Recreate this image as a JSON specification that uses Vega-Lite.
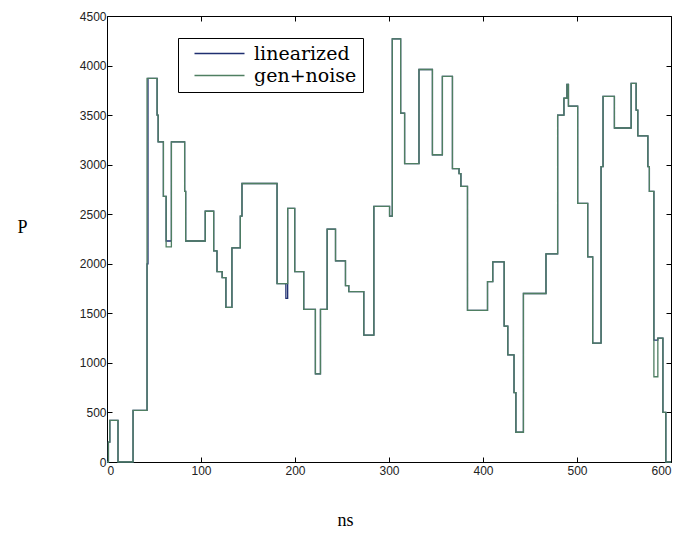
{
  "$schema": "https://vega.github.io/schema/vega-lite/v6.json",
  "autosize": "none",
  "width": 564,
  "height": 446,
  "padding": {"left": 107, "top": 16, "right": 14, "bottom": 74},
  "background": "white",
  "config": {
    "view": {"stroke": "black", "strokeWidth": 1},
    "axis": {
      "domain": false,
      "grid": false,
      "tickColor": "black",
      "tickSize": -5,
      "labelFont": "Liberation Sans",
      "labelFontSize": 12,
      "labelColor": "#222222",
      "format": "d",
      "titleFont": "Liberation Serif",
      "titleFontWeight": "normal",
      "titleFontSize": 17,
      "titleColor": "black"
    }
  },
  "data": {
    "values": [
      {"ns": 0, "P": 0, "series": "linearized"},
      {"ns": 1.5, "P": 200, "series": "linearized"},
      {"ns": 3, "P": 420, "series": "linearized"},
      {"ns": 11.7, "P": 0, "series": "linearized"},
      {"ns": 27.7, "P": 520, "series": "linearized"},
      {"ns": 42.6, "P": 2000, "series": "linearized"},
      {"ns": 43.6, "P": 3870, "series": "linearized"},
      {"ns": 53.3, "P": 3500, "series": "linearized"},
      {"ns": 54.4, "P": 3230, "series": "linearized"},
      {"ns": 60, "P": 2680, "series": "linearized"},
      {"ns": 62.9, "P": 2230, "series": "linearized"},
      {"ns": 68.5, "P": 3230, "series": "linearized"},
      {"ns": 82.6, "P": 2730, "series": "linearized"},
      {"ns": 83.7, "P": 2230, "series": "linearized"},
      {"ns": 104.5, "P": 2530, "series": "linearized"},
      {"ns": 113.5, "P": 2130, "series": "linearized"},
      {"ns": 117, "P": 1920, "series": "linearized"},
      {"ns": 122.5, "P": 1860, "series": "linearized"},
      {"ns": 126.5, "P": 1560, "series": "linearized"},
      {"ns": 132.9, "P": 2160, "series": "linearized"},
      {"ns": 141.8, "P": 2480, "series": "linearized"},
      {"ns": 143.6, "P": 2810, "series": "linearized"},
      {"ns": 180.9, "P": 1800, "series": "linearized"},
      {"ns": 190.3, "P": 1650, "series": "linearized"},
      {"ns": 192.2, "P": 2560, "series": "linearized"},
      {"ns": 199.7, "P": 1920, "series": "linearized"},
      {"ns": 209.3, "P": 1540, "series": "linearized"},
      {"ns": 221.7, "P": 890, "series": "linearized"},
      {"ns": 227.1, "P": 1540, "series": "linearized"},
      {"ns": 234.2, "P": 2350, "series": "linearized"},
      {"ns": 243.1, "P": 2030, "series": "linearized"},
      {"ns": 253.7, "P": 1780, "series": "linearized"},
      {"ns": 257.2, "P": 1720, "series": "linearized"},
      {"ns": 273.2, "P": 1280, "series": "linearized"},
      {"ns": 283.9, "P": 2580, "series": "linearized"},
      {"ns": 300.6, "P": 2480, "series": "linearized"},
      {"ns": 303.5, "P": 4270, "series": "linearized"},
      {"ns": 312.4, "P": 3520, "series": "linearized"},
      {"ns": 316.6, "P": 3010, "series": "linearized"},
      {"ns": 331.9, "P": 3960, "series": "linearized"},
      {"ns": 346.2, "P": 3100, "series": "linearized"},
      {"ns": 356.8, "P": 3890, "series": "linearized"},
      {"ns": 367.5, "P": 2960, "series": "linearized"},
      {"ns": 374.5, "P": 2910, "series": "linearized"},
      {"ns": 376.5, "P": 2780, "series": "linearized"},
      {"ns": 383.5, "P": 1530, "series": "linearized"},
      {"ns": 404.8, "P": 1820, "series": "linearized"},
      {"ns": 410.4, "P": 2020, "series": "linearized"},
      {"ns": 422.5, "P": 1370, "series": "linearized"},
      {"ns": 426.4, "P": 1080, "series": "linearized"},
      {"ns": 433, "P": 700, "series": "linearized"},
      {"ns": 435, "P": 300, "series": "linearized"},
      {"ns": 443, "P": 1700, "series": "linearized"},
      {"ns": 467, "P": 2100, "series": "linearized"},
      {"ns": 479.4, "P": 3500, "series": "linearized"},
      {"ns": 486.1, "P": 3670, "series": "linearized"},
      {"ns": 489.3, "P": 3810, "series": "linearized"},
      {"ns": 490.9, "P": 3590, "series": "linearized"},
      {"ns": 500.7, "P": 2610, "series": "linearized"},
      {"ns": 511.4, "P": 2070, "series": "linearized"},
      {"ns": 516.7, "P": 1200, "series": "linearized"},
      {"ns": 525.6, "P": 2980, "series": "linearized"},
      {"ns": 527.7, "P": 3690, "series": "linearized"},
      {"ns": 539.8, "P": 3370, "series": "linearized"},
      {"ns": 557.6, "P": 3820, "series": "linearized"},
      {"ns": 562.9, "P": 3550, "series": "linearized"},
      {"ns": 564.7, "P": 3290, "series": "linearized"},
      {"ns": 575.4, "P": 2980, "series": "linearized"},
      {"ns": 577, "P": 2730, "series": "linearized"},
      {"ns": 581.8, "P": 1230, "series": "linearized"},
      {"ns": 586, "P": 1250, "series": "linearized"},
      {"ns": 591.4, "P": 500, "series": "linearized"},
      {"ns": 594.5, "P": 0, "series": "linearized"},
      {"ns": 600, "P": 0, "series": "linearized"},

      {"ns": 0, "P": 0, "series": "gen+noise"},
      {"ns": 1.5, "P": 200, "series": "gen+noise"},
      {"ns": 3, "P": 420, "series": "gen+noise"},
      {"ns": 11.7, "P": 0, "series": "gen+noise"},
      {"ns": 27.7, "P": 520, "series": "gen+noise"},
      {"ns": 42.6, "P": 3870, "series": "gen+noise"},
      {"ns": 53.3, "P": 3500, "series": "gen+noise"},
      {"ns": 54.4, "P": 3230, "series": "gen+noise"},
      {"ns": 60, "P": 2680, "series": "gen+noise"},
      {"ns": 62.9, "P": 2170, "series": "gen+noise"},
      {"ns": 68.5, "P": 3230, "series": "gen+noise"},
      {"ns": 82.6, "P": 2730, "series": "gen+noise"},
      {"ns": 83.7, "P": 2230, "series": "gen+noise"},
      {"ns": 104.5, "P": 2530, "series": "gen+noise"},
      {"ns": 113.5, "P": 2130, "series": "gen+noise"},
      {"ns": 117, "P": 1920, "series": "gen+noise"},
      {"ns": 122.5, "P": 1860, "series": "gen+noise"},
      {"ns": 126.5, "P": 1560, "series": "gen+noise"},
      {"ns": 132.9, "P": 2160, "series": "gen+noise"},
      {"ns": 141.8, "P": 2480, "series": "gen+noise"},
      {"ns": 143.6, "P": 2810, "series": "gen+noise"},
      {"ns": 180.9, "P": 1800, "series": "gen+noise"},
      {"ns": 192.2, "P": 2560, "series": "gen+noise"},
      {"ns": 199.7, "P": 1920, "series": "gen+noise"},
      {"ns": 209.3, "P": 1540, "series": "gen+noise"},
      {"ns": 221.7, "P": 890, "series": "gen+noise"},
      {"ns": 227.1, "P": 1540, "series": "gen+noise"},
      {"ns": 234.2, "P": 2350, "series": "gen+noise"},
      {"ns": 243.1, "P": 2030, "series": "gen+noise"},
      {"ns": 253.7, "P": 1780, "series": "gen+noise"},
      {"ns": 257.2, "P": 1720, "series": "gen+noise"},
      {"ns": 273.2, "P": 1280, "series": "gen+noise"},
      {"ns": 283.9, "P": 2580, "series": "gen+noise"},
      {"ns": 300.6, "P": 2480, "series": "gen+noise"},
      {"ns": 303.5, "P": 4270, "series": "gen+noise"},
      {"ns": 312.4, "P": 3520, "series": "gen+noise"},
      {"ns": 316.6, "P": 3010, "series": "gen+noise"},
      {"ns": 331.9, "P": 3960, "series": "gen+noise"},
      {"ns": 346.2, "P": 3100, "series": "gen+noise"},
      {"ns": 356.8, "P": 3890, "series": "gen+noise"},
      {"ns": 367.5, "P": 2960, "series": "gen+noise"},
      {"ns": 374.5, "P": 2910, "series": "gen+noise"},
      {"ns": 376.5, "P": 2780, "series": "gen+noise"},
      {"ns": 383.5, "P": 1530, "series": "gen+noise"},
      {"ns": 404.8, "P": 1820, "series": "gen+noise"},
      {"ns": 410.4, "P": 2020, "series": "gen+noise"},
      {"ns": 422.5, "P": 1370, "series": "gen+noise"},
      {"ns": 426.4, "P": 1080, "series": "gen+noise"},
      {"ns": 433, "P": 700, "series": "gen+noise"},
      {"ns": 435, "P": 300, "series": "gen+noise"},
      {"ns": 443, "P": 1700, "series": "gen+noise"},
      {"ns": 467, "P": 2100, "series": "gen+noise"},
      {"ns": 479.4, "P": 3500, "series": "gen+noise"},
      {"ns": 486.1, "P": 3670, "series": "gen+noise"},
      {"ns": 489.3, "P": 3810, "series": "gen+noise"},
      {"ns": 490.9, "P": 3590, "series": "gen+noise"},
      {"ns": 500.7, "P": 2610, "series": "gen+noise"},
      {"ns": 511.4, "P": 2070, "series": "gen+noise"},
      {"ns": 516.7, "P": 1200, "series": "gen+noise"},
      {"ns": 525.6, "P": 2980, "series": "gen+noise"},
      {"ns": 527.7, "P": 3690, "series": "gen+noise"},
      {"ns": 539.8, "P": 3370, "series": "gen+noise"},
      {"ns": 557.6, "P": 3820, "series": "gen+noise"},
      {"ns": 562.9, "P": 3550, "series": "gen+noise"},
      {"ns": 564.7, "P": 3290, "series": "gen+noise"},
      {"ns": 575.4, "P": 2980, "series": "gen+noise"},
      {"ns": 577, "P": 2730, "series": "gen+noise"},
      {"ns": 581.8, "P": 860, "series": "gen+noise"},
      {"ns": 586, "P": 1250, "series": "gen+noise"},
      {"ns": 591.4, "P": 500, "series": "gen+noise"},
      {"ns": 594.5, "P": 0, "series": "gen+noise"},
      {"ns": 600, "P": 0, "series": "gen+noise"}
    ]
  },
  "layer": [
    {
      "mark": {"type": "line", "interpolate": "step-after", "strokeWidth": 1.3},
      "encoding": {
        "x": {
          "field": "ns", "type": "quantitative",
          "scale": {"domain": [0, 600], "nice": false},
          "axis": {"values": [0, 100, 200, 300, 400, 500, 600], "title": "ns", "titleFont": "Liberation Serif", "titleFontSize": 18, "titleX": 238, "titleY": 58, "titleBaseline": "middle", "labelPadding": 8}
        },
        "y": {
          "field": "P", "type": "quantitative",
          "scale": {"domain": [0, 4500], "nice": false},
          "axis": {"values": [0, 500, 1000, 1500, 2000, 2500, 3000, 3500, 4000, 4500], "title": "P", "titleFont": "Liberation Serif", "titleFontSize": 18, "titleAngle": 0, "titleX": -85, "titleY": 211, "titleBaseline": "middle", "titleAlign": "center", "labelPadding": 6}
        },
        "color": {
          "field": "series", "type": "nominal",
          "scale": {"domain": ["linearized", "gen+noise"], "range": ["#1f2f70", "#4f7f62"]},
          "legend": {
            "title": null,
            "orient": "none",
            "legendX": 71,
            "legendY": 22,
            "direction": "vertical",
            "strokeColor": "black",
            "fillColor": "white",
            "padding": 6,
            "symbolType": "M-5,0H5",
            "symbolSize": 100,
            "symbolOffset": 26,
            "symbolStrokeWidth": 1.3,
            "labelFont": "DejaVu Serif",
            "labelFontSize": 19,
            "labelColor": "black",
            "labelOffset": 25,
            "rowPadding": 2
          }
        }
      }
    },
    {
      "mark": {"type": "line", "opacity": 0},
      "encoding": {
        "x": {
          "field": "ns", "type": "quantitative",
          "axis": {"orient": "top", "values": [0, 100, 200, 300, 400, 500, 600], "labels": false, "title": null}
        },
        "y": {
          "field": "P", "type": "quantitative",
          "axis": {"orient": "right", "values": [0, 500, 1000, 1500, 2000, 2500, 3000, 3500, 4000, 4500], "labels": false, "title": null}
        }
      }
    }
  ],
  "resolve": {"axis": {"x": "independent", "y": "independent"}}
}
